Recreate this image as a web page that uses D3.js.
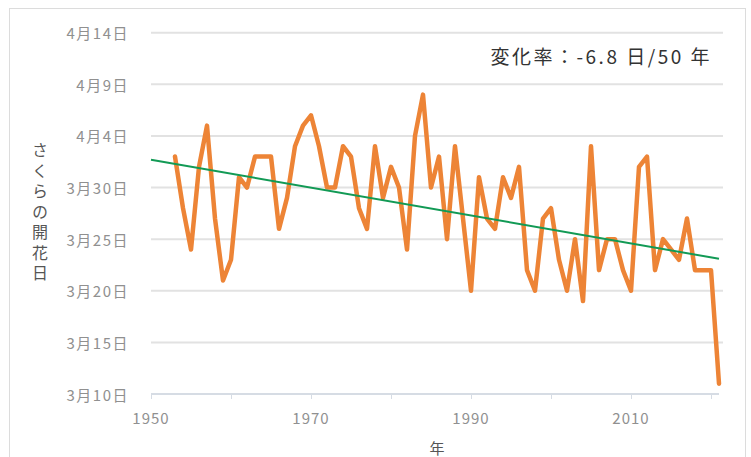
<!DOCTYPE html>
<html>
<head>
<meta charset="utf-8">
<script src="https://cdn.jsdelivr.net/npm/d3@7"></script>
<style>
  html, body { margin: 0; padding: 0; background: #fff; }
  svg { display: block; font-family: "Noto Sans CJK JP", "Noto Sans", sans-serif; }
</style>
</head>
<body>
<svg id="chart" width="751" height="457"></svg>
<script>
// ---- data (day values counted from March 1: March d = d, April d = 31 + d) ----
const years = d3.range(1953, 2022);
const bloomDays = [
  33, 28, 24, 32, 36, 27, 21, 23, 31, 30,
  33, 33, 33, 26, 29, 34, 36, 37, 34, 30,
  30, 34, 33, 28, 26, 34, 29, 32, 30, 24,
  35, 39, 30, 33, 25, 34, 27, 20, 31, 27,
  26, 31, 29, 32, 22, 20, 27, 28, 23, 20,
  25, 19, 34, 22, 25, 25, 22, 20, 32, 33,
  22, 25, 24, 23, 27, 22, 22, 22, 11
];
const trendYears = [1950, 2021];
const trendDays = [32.7, 23.1];
const yTickValues = [10, 15, 20, 25, 30, 35, 40, 45];
const yTickLabels = ["3月10日", "3月15日", "3月20日", "3月25日", "3月30日", "4月4日", "4月9日", "4月14日"];
const xMajorTicks = [1950, 1970, 1990, 2010];
const xMinorTicks = [1950, 1960, 1970, 1980, 1990, 2000, 2010, 2020];
const annotation = "変化率：-6.8 日/50 年";
const xTitle = "年";
const yTitle = "さくらの開花日";

// ---- layout ----
const svg = d3.select("#chart");
const x = d3.scaleLinear().domain([1950, 2021]).range([151, 719]);
const y = d3.scaleLinear().domain([10, 45]).range([394, 32.7]);

// frame
svg.append("rect")
  .attr("x", 9.5).attr("y", 8.5).attr("width", 736).attr("height", 460)
  .attr("fill", "none").attr("stroke", "#dcdcdc").attr("stroke-width", 1);

// gridlines
svg.append("g").selectAll("line").data(yTickValues.filter(v => v !== 10)).join("line")
  .attr("x1", 151).attr("x2", 723)
  .attr("y1", d => y(d)).attr("y2", d => y(d))
  .attr("stroke", "#e2e2e2").attr("stroke-width", 2);

// y tick labels
svg.append("g").selectAll("text").data(yTickValues).join("text")
  .attr("x", 129).attr("y", d => y(d))
  .attr("text-anchor", "end").attr("dominant-baseline", "central")
  .attr("font-size", 15).attr("letter-spacing", 1.5).attr("fill", "#909090")
  .text((d, i) => yTickLabels[i]);

// x axis
const xAxis = d3.axisBottom(x).tickValues(xMinorTicks).tickSize(5).tickFormat("");
const gx = svg.append("g").attr("transform", `translate(0,${y(10)})`).call(xAxis);
gx.select(".domain").attr("stroke", "#d6dce4").attr("stroke-width", 2).attr("d", `M151,0H719`);
gx.selectAll(".tick line").attr("stroke", "#d6dce4");

svg.append("g").selectAll("text").data(xMajorTicks).join("text")
  .attr("x", d => x(d)).attr("y", 424)
  .attr("text-anchor", "middle")
  .attr("font-size", 15).attr("letter-spacing", 1).attr("fill", "#909090")
  .text(d => d);

// titles
svg.append("text").attr("x", 437).attr("y", 454).attr("text-anchor", "middle")
  .attr("font-size", 15).attr("fill", "#555").text(xTitle);

svg.append("text").attr("x", 40).attr("y", 214)
  .attr("text-anchor", "middle")
  .style("writing-mode", "vertical-rl").style("text-orientation", "upright")
  .attr("font-size", 16).attr("letter-spacing", 4.5).attr("fill", "#555").text(yTitle);

// data line
const data = years.map((yr, i) => ({ yr, d: bloomDays[i] }));
svg.append("path").datum(data)
  .attr("fill", "none").attr("stroke", "#ED8436").attr("stroke-width", 4.5)
  .attr("stroke-linejoin", "round").attr("stroke-linecap", "round")
  .attr("d", d3.line().x(p => x(p.yr)).y(p => y(p.d)));

// trend
const trend = trendYears.map((yr, i) => ({ yr, d: trendDays[i] }));
svg.append("path").datum(trend)
  .attr("fill", "none").attr("stroke", "#129a55").attr("stroke-width", 2)
  .attr("d", d3.line().x(p => x(p.yr)).y(p => y(p.d)));

// annotation
svg.append("text").attr("x", 712).attr("y", 64).attr("text-anchor", "end")
  .attr("font-size", 19).attr("letter-spacing", 2.5).attr("fill", "#333").text(annotation);
</script>
</body>
</html>
